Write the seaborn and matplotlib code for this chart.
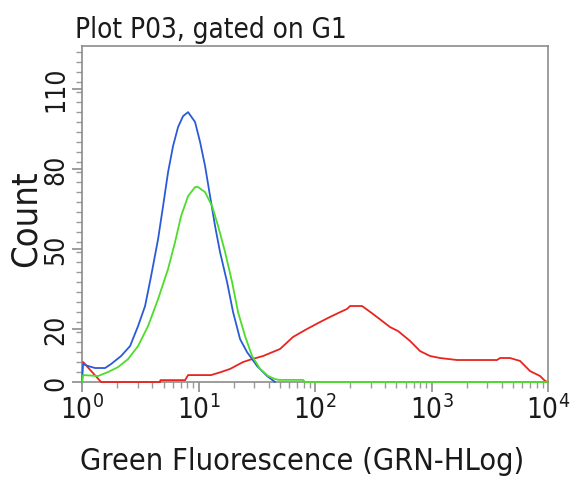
import pandas as pd
import matplotlib
matplotlib.use("Agg")
import matplotlib.pyplot as plt
import matplotlib.ticker as mticker
import seaborn as sns

blue_x = [1.0, 1.02, 1.126, 1.293, 1.576, 1.774, 2.162, 2.583, 3.025, 3.474, 3.912, 4.492,
          4.958, 5.472, 6.04, 6.668, 7.36, 8.125, 9.33, 10.3, 11.37, 12.55, 13.85, 15.29,
          17.56, 19.78, 22.71, 26.08, 28.8, 31.78, 38.73, 45.37]
blue_y = [0, 6.75, 6.0, 5.25, 5.25, 6.75, 9.75, 13.5, 21, 28.5, 39.7, 53.6,
          66, 78.7, 88.5, 95.6, 99.7, 101.2, 97.5, 90, 81, 69.7, 58.5, 48.7,
          37.5, 26.2, 16.1, 11.2, 8.6, 6.0, 2.25, 0]

green_x = [1.0, 1.02, 1.372, 1.672, 2.037, 2.482, 3.025, 3.686, 4.492, 5.472, 6.285, 7.076,
           8.125, 9.33, 9.9, 11.37, 13.06, 14.71, 16.89, 19.39, 21.83, 25.07, 28.79, 33.73,
           39.51, 45.37, 49.1, 78.9, 82.0, 10000]
green_y = [0, 2.6, 2.25, 3.75, 5.6, 8.6, 13.5, 21, 31.1, 42.4, 52.5, 62.2,
           69.7, 73.1, 73.1, 71.2, 66, 58.5, 48.7, 37.5, 26.2, 17.2, 9.75, 4.9,
           2.25, 1.1, 0.8, 0.8, 0, 0]

red_x = [1.02, 1.456, 4.67, 4.7, 7.66, 8.13, 12.8, 15.6, 18.64, 24.1, 28.8, 35.8, 50.1,
         64.7, 85.4, 110.4, 134.5, 163.9, 188.2, 199.7, 253.2, 314.7, 440.4, 515.9, 653.8,
         796.7, 970.8, 1183, 1655, 3650, 3873, 4718, 5749, 7006, 8538, 9424, 10000]
red_y = [7.5, 0, 0, 0.7, 0.7, 2.6, 2.6, 3.75, 4.9, 7.5, 8.6, 9.75, 12.4,
         16.9, 19.9, 22.5, 24.4, 26.2, 27.4, 28.5, 28.5, 25.5, 20.6, 19.1, 15.4,
         11.6, 9.75, 9.0, 8.25, 8.25, 9.0, 9.0, 7.9, 4.1, 2.25, 0.4, 0]

y_ticks = [0, 20, 50, 80, 110]
cores = {"red": "#e8241f", "blue": "#2a5bd7", "green": "#4cdd2a"}

df = pd.concat([
    pd.DataFrame({"x": red_x, "y": red_y, "amostra": "red"}),
    pd.DataFrame({"x": blue_x, "y": blue_y, "amostra": "blue"}),
    pd.DataFrame({"x": green_x, "y": green_y, "amostra": "green"}),
])

sns.set_theme(style="white")
plt.rcParams["font.family"] = ["DejaVu Sans"]
plt.rcParams["font.stretch"] = "condensed"

fig = plt.figure(figsize=(5.7, 4.81), dpi=100)
ax = fig.add_axes([0.144, 0.2037, 0.8175, 0.6986])

sns.lineplot(data=df, x="x", y="y", hue="amostra", palette=cores,
             hue_order=["red", "blue", "green"], estimator=None, sort=False,
             linewidth=1.3, legend=False, ax=ax)

# linhas por cima da moldura (a linha verde corre sobre o eixo x)
for ln in ax.lines:
    ln.set_clip_on(False)
    ln.set_zorder(3)

ax.set_xscale("log")
ax.set_xlim(1, 1e4)
ax.set_ylim(0, 126)

ax.xaxis.set_major_locator(mticker.LogLocator(base=10, numticks=10))
ax.xaxis.set_minor_locator(mticker.LogLocator(base=10, subs=range(2, 10), numticks=10))
ax.xaxis.set_major_formatter(mticker.LogFormatterMathtext())
ax.xaxis.set_minor_formatter(mticker.NullFormatter())

ax.set_yticks(y_ticks)
ax.set_yticklabels([str(v) for v in y_ticks], rotation=90, va="center")
ax.yaxis.set_minor_locator(mticker.MultipleLocator(3.75))

for s in ax.spines.values():
    s.set_color("#8c8c8c")
    s.set_linewidth(1.2)

ax.tick_params(axis="both", which="major", direction="out", length=7, width=1.2,
               color="#8c8c8c", labelcolor="#1a1a1a", pad=2)
ax.tick_params(axis="x", which="major", labelsize=20)
ax.tick_params(axis="y", which="major", labelsize=19)
ax.tick_params(axis="both", which="minor", direction="out", length=4, width=1.0,
               color="#9a9a9a")
ax.tick_params(axis="x", which="both", bottom=True)
ax.tick_params(axis="y", which="both", left=True)

ax.set_xlabel("Green Fluorescence (GRN-HLog)", fontsize=22, color="#1a1a1a")
ax.xaxis.set_label_coords(0.472, -0.19)
ax.set_ylabel("Count", fontsize=26, color="#1a1a1a")
ax.yaxis.set_label_coords(-0.085, 0.49)

fig.text(0.1316, 0.921, "Plot P03, gated on G1", fontsize=20, color="#1a1a1a",
         ha="left", va="baseline")

fig.savefig("out.png", dpi=100)
